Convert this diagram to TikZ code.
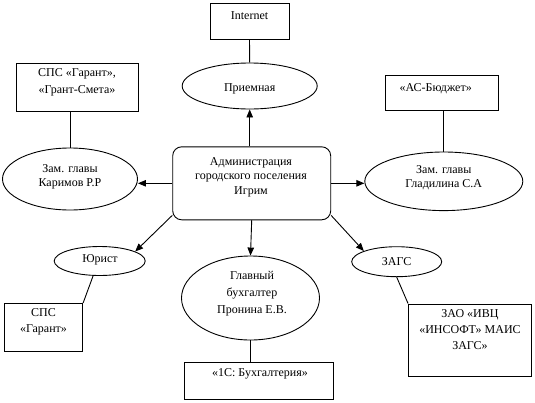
\documentclass[tikz,border=0pt]{standalone}
\usepackage{fontspec}
\setmainfont{Liberation Serif}
\usetikzlibrary{shapes.geometric,arrows.meta}
\begin{document}
\begin{tikzpicture}[x=1pt,y=-1pt,
  line width=0.9pt,
  box/.style={draw, rectangle, inner sep=0pt},
  oval/.style={draw, ellipse, inner sep=0pt},
  txt/.style={align=center, inner sep=0pt, font=\fontsize{12}{15}\selectfont},
  arr/.style={-{Triangle[length=8pt,width=6.5pt]}}
]
\useasboundingbox (0,0) rectangle (535,402);

% nodes
\node[box, minimum width=79pt, minimum height=36pt] (inet) at (249.5,21) {};
\node[txt] (inett) at (249.5,16) {Internet};

\node[oval, minimum width=135pt, minimum height=46pt] (pr) at (249.7,86) {};
\node[txt] (prt) at (249.7,89) {Приемная};

\node[box, rounded corners=9pt, minimum width=158pt, minimum height=73pt] (adm) at (251.7,183.3) {};
\node[txt, font=\fontsize{12}{14.5}\selectfont] (admt) at (251,177) {Администрация\\городского поселения\\Игрим};

\node[oval, minimum width=135pt, minimum height=62pt] (kar) at (70,179) {};
\node[txt, font=\fontsize{12}{14}\selectfont] (kart) at (70,177) {Зам. главы\\Каримов Р.Р};

\node[box, minimum width=122pt, minimum height=48pt] (spc1) at (77,87) {};
\node[txt, font=\fontsize{12}{16.5}\selectfont] (spc1t) at (77,82.5) {СПС «Гарант»,\\«Грант-Смета»};

\node[oval, minimum width=158pt, minimum height=58.6pt] (gla) at (443.8,181.3) {};
\node[txt, font=\fontsize{12}{14}\selectfont] (glat) at (443.8,177.5) {Зам. главы\\Гладилина С.А};

\node[box, minimum width=112.6pt, minimum height=35.4pt] (asb) at (442,93) {};
\node[txt] (asbt) at (435.7,89) {«АС-Бюджет»};

\node[oval, minimum width=138pt, minimum height=84pt] (pro) at (250.5,298) {};
\node[txt, font=\fontsize{12}{17}\selectfont] (prot) at (252,294) {Главный\\бухгалтер\\Пронина Е.В.};

\node[box, minimum width=149pt, minimum height=36.3pt] (buh) at (258.5,381) {};
\node[txt] (buht) at (260,374) {«1С: Бухгалтерия»};

\node[oval, minimum width=91pt, minimum height=29pt] (yur) at (99.7,261) {};
\node[txt] (yurt) at (100,259.5) {Юрист};

\node[box, minimum width=78.4pt, minimum height=47.7pt] (spc2) at (43.5,327.2) {};
\node[txt, font=\fontsize{12}{16.5}\selectfont] (spc2t) at (43.5,321.7) {СПС\\«Гарант»};

\node[oval, minimum width=90pt, minimum height=30pt] (zags) at (396.7,261.7) {};
\node[txt] (zagst) at (396.7,261.7) {ЗАГС};

\node[box, minimum width=123pt, minimum height=72.7pt] (zao) at (470,340.3) {};
\node[txt, font=\fontsize{12}{16}\selectfont] (zaot) at (470,330) {ЗАО «ИВЦ\\«ИНСОФТ» МАИС\\ЗАГС»};

% connectors
\draw (inet.south) -- (pr.north);
\draw[arr] (adm.north -| pr.south) -- (pr.south);
\draw[arr] (adm.west) -- (adm.west -| kar.east);
\draw (spc1.south -| kar.north) -- (kar.north);
\draw[arr] (adm.east) -- (adm.east -| gla.west);
\draw (asb.south -| gla.north) -- (gla.north);
\draw[arr] (adm.south) -- (pro.north);
\draw (pro.south) -- (pro.south |- buh.north);
\draw[arr] (adm.202) -- (yur.15);
\draw (yur.246) -- (spc2.north east);
\draw[arr] (adm.338) -- (zags.162);
\draw (zags.south) -- (zao.north west);
\end{tikzpicture}
\end{document}
